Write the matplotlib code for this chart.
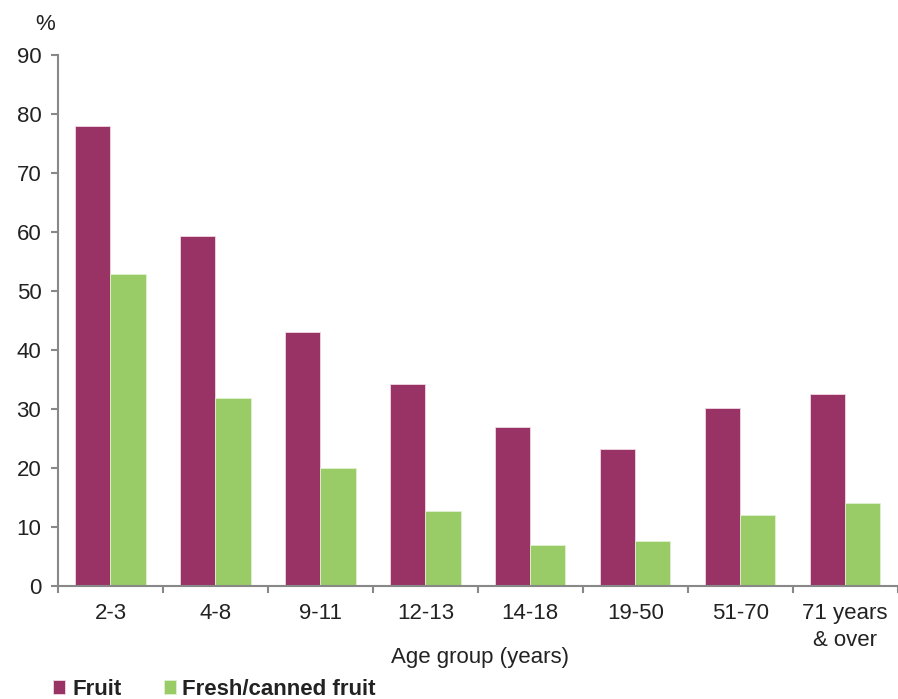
import numpy as np
import matplotlib.pyplot as plt

plt.rcParams['font.family'] = ['Liberation Sans', 'DejaVu Sans']

age_groups = ['2-3', '4-8', '9-11', '12-13', '14-18', '19-50', '51-70', '71 years\n& over']
fruit = [78.0, 59.3, 43.0, 34.2, 26.9, 23.2, 30.2, 32.5]
fresh_canned = [52.9, 31.9, 20.0, 12.7, 6.9, 7.6, 12.0, 14.1]

fig = plt.figure(figsize=(8.98, 6.99), dpi=100)
ax = fig.add_axes([0.0646, 0.1617, 0.935, 0.7594])

x = np.arange(len(age_groups))
w = 0.335
ax.bar(x - w / 2, fruit, w, color='#993366', edgecolor='#f0d8e4', linewidth=0.6, label='Fruit')
ax.bar(x + w / 2, fresh_canned, w, color='#99cc66', edgecolor='#e0f0d0', linewidth=0.6, label='Fresh/canned fruit')

ax.set_xlim(-0.5, len(age_groups) - 0.5)
ax.set_ylim(0, 90)
ax.set_yticks(range(0, 91, 10))
ax.set_xticks(x)
ax.set_xticklabels(age_groups, fontsize=16, linespacing=1.4, color='#222222')
ax.set_xticks(np.arange(-0.5, len(age_groups), 1), minor=True)
ax.tick_params(axis='x', which='major', length=0, pad=12)
ax.tick_params(axis='x', which='minor', length=5, color='#888888', width=1.5)
ax.tick_params(axis='y', labelsize=16, labelcolor='#222222', length=5, color='#888888', width=1.5, pad=7)

for s in ['top', 'right']:
    ax.spines[s].set_visible(False)
for s in ['left', 'bottom']:
    ax.spines[s].set_color('#888888')
    ax.spines[s].set_linewidth(1.5)

# axis title placed by hand, as in the source it sits beside the two-line label
fig.text(0.535, 1 - 657 / 699, 'Age group (years)', fontsize=16, ha='center', va='center', color='#222222')
fig.text(0.05, 0.965, '%', fontsize=16, ha='center', va='center', color='#222222')

fig.legend(loc='lower left', bbox_to_anchor=(0.037, -0.03), ncol=2, frameon=False,
           prop={'size': 16, 'weight': 'bold'}, handlelength=0.55, handleheight=0.55,
           handletextpad=0.3, columnspacing=1.9, labelcolor='#222222')

fig.savefig('out.png', dpi=100)
